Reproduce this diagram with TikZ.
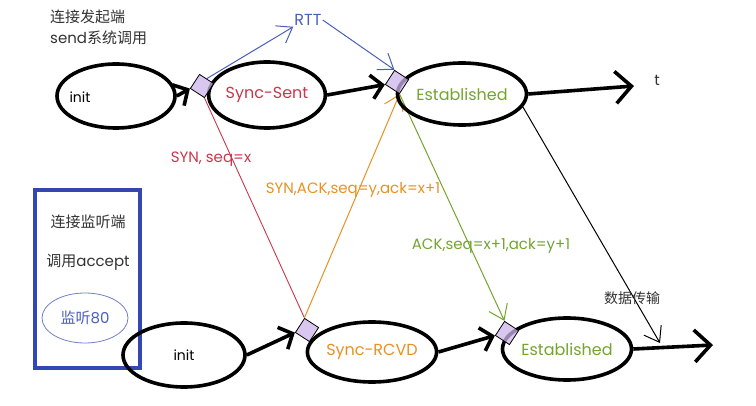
\documentclass[tikz,border=0pt]{standalone}
\usepackage{fontspec}
\setmainfont{Poppins}
\newfontfamily\cjk{Noto Sans CJK SC}
\usetikzlibrary{arrows.meta,shapes.geometric}
\pgfdeclarelayer{bg}
\pgfsetlayers{bg,main}
\definecolor{synred}{RGB}{200,55,75}
\definecolor{rttblue}{RGB}{75,95,185}
\definecolor{boxblue}{RGB}{50,70,180}
\definecolor{acorange}{RGB}{232,145,35}
\definecolor{estgreen}{RGB}{115,165,45}
\definecolor{markfill}{RGB}{205,180,235}
\definecolor{txtgray}{RGB}{50,50,50}
\begin{document}
\begin{tikzpicture}[x=1pt,y=-1pt,
  state/.style={draw=black, line width=3.6pt, ellipse, inner sep=0pt},
  dmark/.style={diamond, draw=black, line width=0.8pt, fill=markfill, fill opacity=0.75, minimum width=24pt, minimum height=24pt, inner sep=0pt, rotate=12},
  thick arrow/.style={line width=3.6pt, -{Straight Barb[length=11pt,width=24pt]}},
  big arrow/.style={line width=3.6pt, -{Straight Barb[length=16pt,width=32pt]}},
  thin arrow/.style={line width=1pt, -{Straight Barb[length=14pt,width=20pt]}},
  lbl/.style={font=\fontsize{15}{17}\selectfont, inner sep=1pt},
  sttxt/.style={font=\fontsize{16}{18}\selectfont},
]
\useasboundingbox (0,0) rectangle (756,406);

% top-left texts
\node[anchor=west, txtgray, font=\fontsize{15}{17}\selectfont, inner sep=0pt] (t1) at (50,17) {\cjk 连接发起端};
\node[anchor=west, txtgray, font=\fontsize{15}{17}\selectfont, inner sep=0pt] (t2) at (50,38) {send{\cjk 系统调用}};

% listening box
\draw[boxblue, line width=4pt] (35,190) rectangle (140,368);
\node[txtgray, font=\fontsize{15}{17}\selectfont] (b1) at (88,222) {\cjk 连接监听端};
\node[txtgray, font=\fontsize{15}{17}\selectfont] (b2) at (88,262) {{\cjk 调用}accept};
\node[draw=rttblue!80, line width=0.8pt, ellipse, minimum width=86pt, minimum height=50pt, text=rttblue, font=\fontsize{15}{17}\selectfont] (b3) at (85,318) {{\cjk 监听}80};

% top row states
\node[state, minimum width=118pt, minimum height=64pt] (i1) at (116,96) {};
\node[font=\fontsize{14}{16}\selectfont] (i1t) at (80,97) {init};
\node[state, minimum width=114pt, minimum height=66pt, text=synred, sttxt] (s1) at (267,95) {Sync-Sent};
\node[state, minimum width=120pt, minimum height=62pt, text=estgreen, sttxt] (e1) at (462,94) {Established};

% bottom row states
\node[state, minimum width=122pt, minimum height=64pt, font=\fontsize{14}{16}\selectfont] (i2) at (184,355) {init};
\node[state, minimum width=120pt, minimum height=60pt, text=acorange, sttxt] (s2) at (372,352) {Sync-RCVD};
\node[state, minimum width=120pt, minimum height=62pt, text=estgreen, sttxt] (e2) at (567,349) {Established};

% markers
\node[dmark] (d1) at (202,86) {};
\node[dmark] (d2) at (397,82) {};
\node[dmark] (d3) at (307,330) {};
\node[dmark] (d4) at (507,333) {};

% texts
\node[text=rttblue, font=\fontsize{16}{18}\selectfont, inner sep=1pt] (rtt) at (308,20) {RTT};
\node[txtgray, font=\fontsize{15}{17}\selectfont] (tt) at (657,80) {t};
\node[txtgray, font=\fontsize{14}{16}\selectfont] (dt) at (632,298) {\cjk 数据传输};

\coordinate (tend) at (634,86);
\coordinate (bend) at (713,345);
\coordinate (arr) at (660,343);

% main time lines
\draw[thick arrow] (i1.east) -- (d1.west);
\draw[thick arrow] (s1.east) -- (d2.west);
\draw[thick arrow] (i2.east) -- (d3.west);
\draw[thick arrow] (s2.east) -- (d4.west);
\begin{pgfonlayer}{bg}
\draw[big arrow] (e1.east) -- (tend);
\draw[big arrow] (e2.east) -- (bend);

% RTT
\draw[thin arrow, rttblue] (d1.north east) -- (rtt.south west);
\draw[thin arrow, rttblue] (rtt.east) -- (d2.north);

% handshake messages
\draw[synred, line width=0.9pt] (d1.south) -- (d3.north);
\draw[thin arrow, acorange] (d3.north) -- (d2.south);
\draw[thin arrow, estgreen] (d2.south) -- (d4.north);
\draw[thin arrow, black] (e1.-12) -- (arr);
\end{pgfonlayer}

% labels
\node[text=synred, lbl] (l1) at (211,159) {SYN,\ seq=x};
\node[text=acorange, lbl] (l2) at (353,190) {SYN,ACK,seq=y,ack=x+1};
\node[text=estgreen, lbl] (l3) at (491,246) {ACK,seq=x+1,ack=y+1};
\end{tikzpicture}
\end{document}
